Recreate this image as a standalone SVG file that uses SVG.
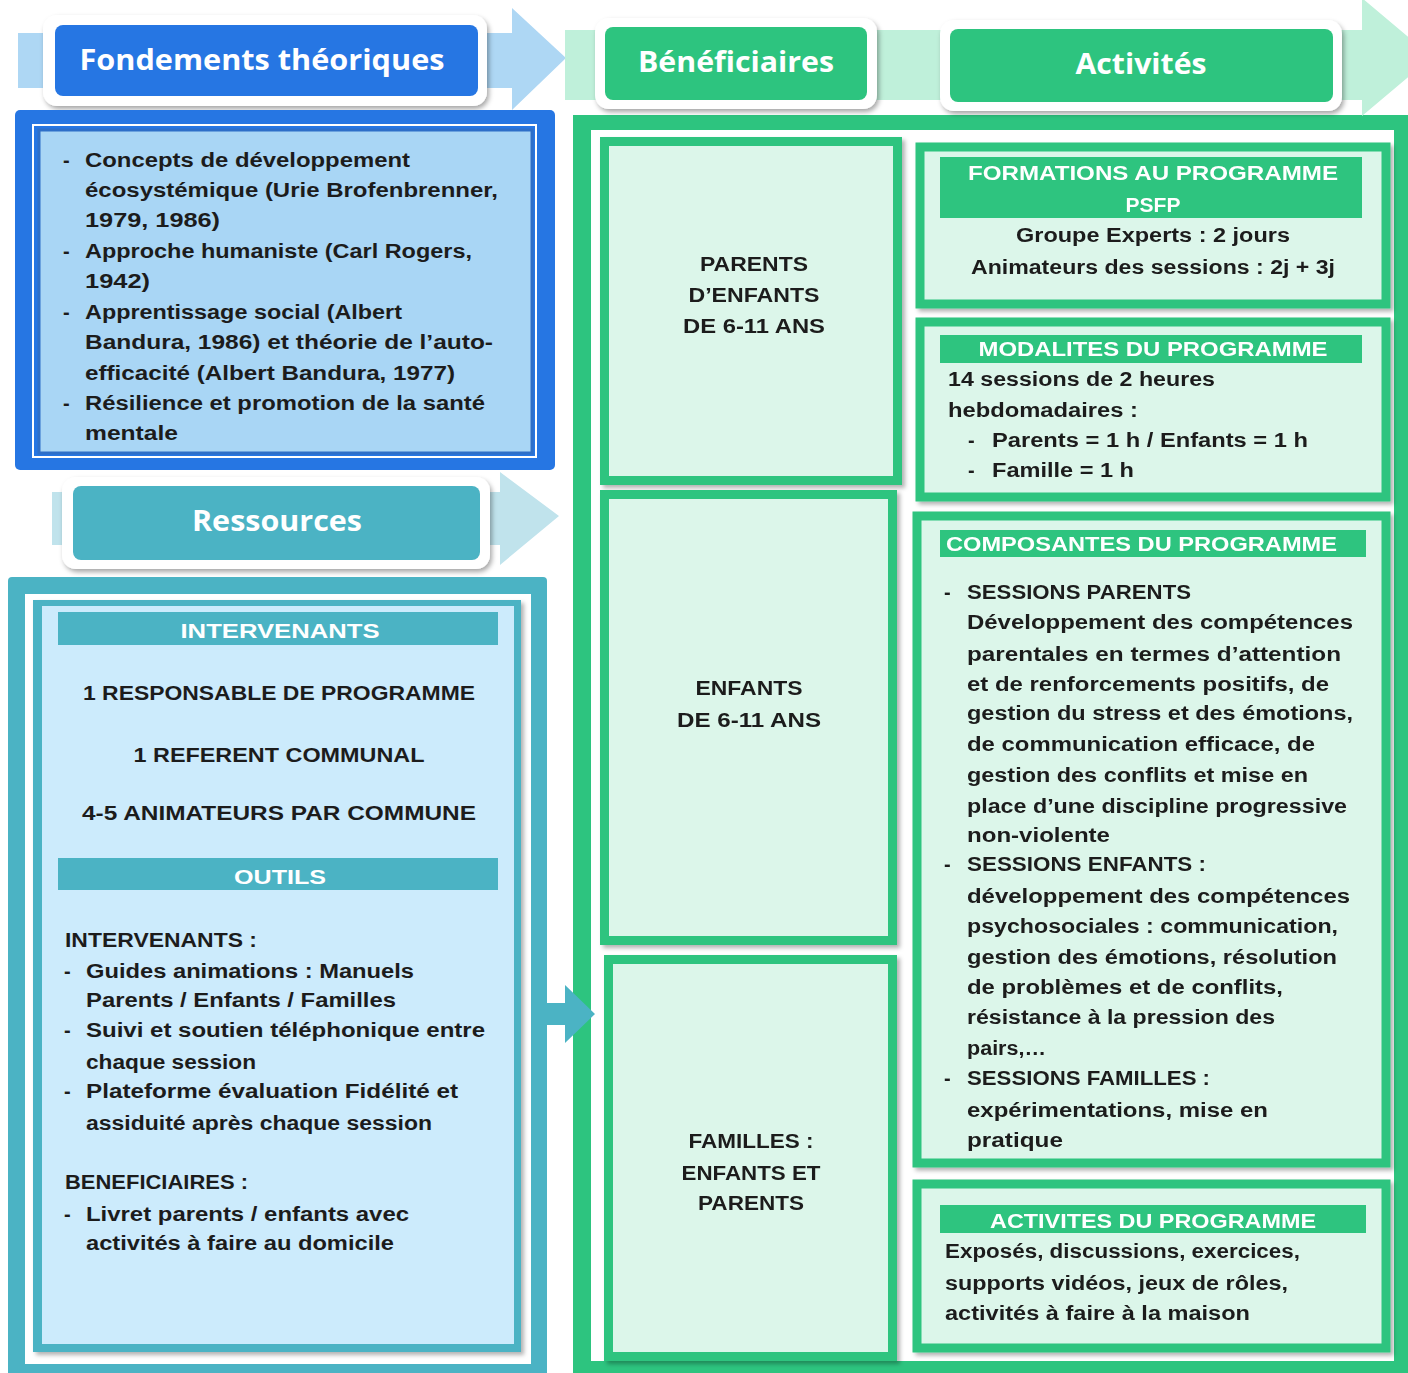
<svg xmlns="http://www.w3.org/2000/svg" width="1408" height="1373" viewBox="0 0 1408 1373">
<defs>
<filter id="sh" x="-10%" y="-10%" width="125%" height="130%">
<feDropShadow dx="2" dy="3" stdDeviation="2.5" flood-color="#000" flood-opacity="0.35"/>
</filter>
<filter id="sh2" x="-5%" y="-5%" width="115%" height="115%">
<feDropShadow dx="3" dy="3" stdDeviation="2" flood-color="#000" flood-opacity="0.3"/>
</filter>
</defs>
<style>
.t{font-family:"Liberation Sans","DejaVu Sans",Arial,sans-serif;font-weight:bold;font-size:20px;fill:#1c1c1c}
.w{fill:#ffffff}
.h{font-size:29px;font-family:"Open Sans","Liberation Sans",sans-serif;font-weight:bold}
.c{text-anchor:middle}
.blue{fill:#2676E3}
.teal{fill:#4BB3C4}
.green{fill:#2DC47F}
.gbox{fill:#DCF6EA;stroke:#2DC47F;stroke-width:9}
</style>
<rect width="1408" height="1373" fill="#ffffff"/>

<!-- Green container -->
<g id="container-green">
<rect x="573" y="115" width="840" height="1265" class="green"/>
<rect x="591" y="130" width="803" height="1231" fill="#fff"/>
</g>

<!-- banners and flow arrows -->
<g id="connectors">
<polygon points="18,33 512,33 512,8 566,58 512,110 512,88 18,88" fill="#AED7F4"/>
<polygon points="52,492 500,492 500,472 559,516 500,565 500,545 52,545" fill="#C0E3EC"/>
<polygon points="565,30 1362,30 1362,-2 1432,57 1362,116 1362,100 565,100" fill="#BFF0DA"/>
<polygon points="545,1003 565,1003 565,985 595,1014 565,1043 565,1025 545,1025" fill="#4BB3C4"/>
</g>

<!-- header: Fondements théoriques -->
<g id="hdr-fondements">
<rect x="43" y="15" width="444" height="91" rx="14" fill="#fff" filter="url(#sh)"/>
<rect x="55" y="25" width="423" height="71" rx="8" class="blue"/>
<text x="262" y="70" class="t w h c" textLength="365" lengthAdjust="spacingAndGlyphs">Fondements théoriques</text>
</g>

<!-- header: Bénéficiaires -->
<g id="hdr-beneficiaires">
<rect x="595" y="18" width="282" height="91" rx="14" fill="#fff" filter="url(#sh)"/>
<rect x="605" y="27" width="262" height="73" rx="8" class="green"/>
<text x="736" y="72" class="t w h c" textLength="196" lengthAdjust="spacingAndGlyphs">Bénéficiaires</text>
</g>

<!-- header: Activités -->
<g id="hdr-activites">
<rect x="940" y="20" width="402" height="91" rx="14" fill="#fff" filter="url(#sh)"/>
<rect x="950" y="29" width="383" height="73" rx="8" class="green"/>
<text x="1141" y="74" class="t w h c" textLength="131" lengthAdjust="spacingAndGlyphs">Activités</text>
</g>

<!-- Fondements box -->
<g id="box-fondements">
<rect x="15" y="110" width="540" height="360" rx="5" class="blue"/>
<rect x="33" y="125" width="503" height="332" fill="none" stroke="#fff" stroke-width="2"/>
<rect x="39" y="130" width="493" height="323" fill="#A9D6F5" stroke="#2E6FC8" stroke-width="3"/>
<text x="63" y="167" class="t">-</text>
<text x="85" y="167" class="t" textLength="325" lengthAdjust="spacingAndGlyphs">Concepts de développement</text>
<text x="85" y="197" class="t" textLength="413" lengthAdjust="spacingAndGlyphs">écosystémique (Urie Brofenbrenner,</text>
<text x="85" y="227" class="t" textLength="135" lengthAdjust="spacingAndGlyphs">1979, 1986)</text>
<text x="63" y="258" class="t">-</text>
<text x="85" y="258" class="t" textLength="387" lengthAdjust="spacingAndGlyphs">Approche humaniste (Carl Rogers,</text>
<text x="85" y="288" class="t" textLength="65" lengthAdjust="spacingAndGlyphs">1942)</text>
<text x="63" y="319" class="t">-</text>
<text x="85" y="319" class="t" textLength="317" lengthAdjust="spacingAndGlyphs">Apprentissage social (Albert</text>
<text x="85" y="349" class="t" textLength="408" lengthAdjust="spacingAndGlyphs">Bandura, 1986) et théorie de l’auto-</text>
<text x="85" y="380" class="t" textLength="370" lengthAdjust="spacingAndGlyphs">efficacité (Albert Bandura, 1977)</text>
<text x="63" y="410" class="t">-</text>
<text x="85" y="410" class="t" textLength="400" lengthAdjust="spacingAndGlyphs">Résilience et promotion de la santé</text>
<text x="85" y="440" class="t" textLength="93" lengthAdjust="spacingAndGlyphs">mentale</text>
</g>

<!-- header: Ressources -->
<g id="hdr-ressources">
<rect x="62" y="477" width="428" height="92" rx="14" fill="#fff" filter="url(#sh)"/>
<rect x="73" y="486" width="407" height="74" rx="8" class="teal"/>
<text x="277" y="531" class="t w h c" textLength="170" lengthAdjust="spacingAndGlyphs">Ressources</text>
</g>

<!-- Ressources box -->
<g id="box-ressources">
<rect x="8" y="577" width="539" height="800" rx="4" class="teal"/>
<rect x="25" y="594" width="506" height="770" fill="#fff"/>
<rect x="33" y="600" width="488" height="752" class="teal" filter="url(#sh2)"/>
<rect x="42" y="606" width="472" height="738" fill="#CCEBFC"/>
<rect x="58" y="612" width="440" height="33" class="teal"/>
<text x="280" y="638" class="t w c" textLength="199" lengthAdjust="spacingAndGlyphs">INTERVENANTS</text>
<text x="279" y="700" class="t c" textLength="392" lengthAdjust="spacingAndGlyphs">1 RESPONSABLE DE PROGRAMME</text>
<text x="279" y="762" class="t c" textLength="291" lengthAdjust="spacingAndGlyphs">1 REFERENT COMMUNAL</text>
<text x="279" y="820" class="t c" textLength="394" lengthAdjust="spacingAndGlyphs">4-5 ANIMATEURS PAR COMMUNE</text>
<rect x="58" y="858" width="440" height="32" class="teal"/>
<text x="280" y="884" class="t w c" textLength="92" lengthAdjust="spacingAndGlyphs">OUTILS</text>
<text x="65" y="947" class="t" textLength="192" lengthAdjust="spacingAndGlyphs">INTERVENANTS :</text>
<text x="64" y="978" class="t">-</text>
<text x="86" y="978" class="t" textLength="328" lengthAdjust="spacingAndGlyphs">Guides animations : Manuels</text>
<text x="86" y="1007" class="t" textLength="310" lengthAdjust="spacingAndGlyphs">Parents / Enfants / Familles</text>
<text x="64" y="1037" class="t">-</text>
<text x="86" y="1037" class="t" textLength="399" lengthAdjust="spacingAndGlyphs">Suivi et soutien téléphonique entre</text>
<text x="86" y="1069" class="t" textLength="170" lengthAdjust="spacingAndGlyphs">chaque session</text>
<text x="64" y="1098" class="t">-</text>
<text x="86" y="1098" class="t" textLength="372" lengthAdjust="spacingAndGlyphs">Plateforme évaluation Fidélité et</text>
<text x="86" y="1130" class="t" textLength="346" lengthAdjust="spacingAndGlyphs">assiduité après chaque session</text>
<text x="65" y="1189" class="t" textLength="183" lengthAdjust="spacingAndGlyphs">BENEFICIAIRES :</text>
<text x="64" y="1221" class="t">-</text>
<text x="86" y="1221" class="t" textLength="323" lengthAdjust="spacingAndGlyphs">Livret parents / enfants avec</text>
<text x="86" y="1250" class="t" textLength="308" lengthAdjust="spacingAndGlyphs">activités à faire au domicile</text>
</g>

<!-- Beneficiaires boxes -->
<g id="ben-parents" filter="url(#sh2)">
<rect x="604.5" y="141.5" width="293" height="339" class="gbox"/>
<text x="754" y="271" class="t c" textLength="108" lengthAdjust="spacingAndGlyphs">PARENTS</text>
<text x="754" y="302" class="t c" textLength="131" lengthAdjust="spacingAndGlyphs">D’ENFANTS</text>
<text x="754" y="333" class="t c" textLength="142" lengthAdjust="spacingAndGlyphs">DE 6-11 ANS</text>
</g>
<g id="ben-enfants" filter="url(#sh2)">
<rect x="604.5" y="494.5" width="288" height="446" class="gbox"/>
<text x="749" y="695" class="t c" textLength="107" lengthAdjust="spacingAndGlyphs">ENFANTS</text>
<text x="749" y="727" class="t c" textLength="144" lengthAdjust="spacingAndGlyphs">DE 6-11 ANS</text>
</g>
<g id="ben-familles" filter="url(#sh2)">
<rect x="608.5" y="959.5" width="284" height="397" class="gbox"/>
<text x="751" y="1148" class="t c" textLength="125" lengthAdjust="spacingAndGlyphs">FAMILLES :</text>
<text x="751" y="1180" class="t c" textLength="139" lengthAdjust="spacingAndGlyphs">ENFANTS ET</text>
<text x="751" y="1210" class="t c" textLength="106" lengthAdjust="spacingAndGlyphs">PARENTS</text>
</g>

<!-- Activites boxes -->
<g id="act-formations" filter="url(#sh2)">
<rect x="920" y="147" width="466" height="157" class="gbox"/>
<rect x="940" y="157" width="422" height="61" class="green"/>
<text x="1153" y="180" class="t w c" textLength="370" lengthAdjust="spacingAndGlyphs">FORMATIONS AU PROGRAMME</text>
<text x="1153" y="212" class="t w c" textLength="55" lengthAdjust="spacingAndGlyphs">PSFP</text>
<text x="1153" y="242" class="t c" textLength="274" lengthAdjust="spacingAndGlyphs">Groupe Experts : 2 jours</text>
<text x="1153" y="274" class="t c" textLength="364" lengthAdjust="spacingAndGlyphs">Animateurs des sessions : 2j + 3j</text>
</g>
<g id="act-modalites" filter="url(#sh2)">
<rect x="920" y="322" width="466" height="175" class="gbox"/>
<rect x="940" y="335" width="422" height="28" class="green"/>
<text x="1153" y="356" class="t w c" textLength="349" lengthAdjust="spacingAndGlyphs">MODALITES DU PROGRAMME</text>
<text x="948" y="386" class="t" textLength="267" lengthAdjust="spacingAndGlyphs">14 sessions de 2 heures</text>
<text x="948" y="417" class="t" textLength="190" lengthAdjust="spacingAndGlyphs">hebdomadaires :</text>
<text x="968" y="447" class="t">-</text>
<text x="992" y="447" class="t" textLength="316" lengthAdjust="spacingAndGlyphs">Parents = 1 h / Enfants = 1 h</text>
<text x="968" y="477" class="t">-</text>
<text x="992" y="477" class="t" textLength="142" lengthAdjust="spacingAndGlyphs">Famille = 1 h</text>
</g>
<g id="act-composantes" filter="url(#sh2)">
<rect x="917" y="516" width="469" height="647" class="gbox"/>
<rect x="940" y="530" width="426" height="27" class="green"/>
<text x="946" y="551" class="t w" textLength="391" lengthAdjust="spacingAndGlyphs">COMPOSANTES DU PROGRAMME</text>
<text x="944" y="599" class="t">-</text>
<text x="967" y="599" class="t" textLength="224" lengthAdjust="spacingAndGlyphs">SESSIONS PARENTS</text>
<text x="967" y="629" class="t" textLength="386" lengthAdjust="spacingAndGlyphs">Développement des compétences</text>
<text x="967" y="661" class="t" textLength="374" lengthAdjust="spacingAndGlyphs">parentales en termes d’attention</text>
<text x="967" y="691" class="t" textLength="362" lengthAdjust="spacingAndGlyphs">et de renforcements positifs, de</text>
<text x="967" y="720" class="t" textLength="386" lengthAdjust="spacingAndGlyphs">gestion du stress et des émotions,</text>
<text x="967" y="751" class="t" textLength="348" lengthAdjust="spacingAndGlyphs">de communication efficace, de</text>
<text x="967" y="782" class="t" textLength="341" lengthAdjust="spacingAndGlyphs">gestion des conflits et mise en</text>
<text x="967" y="813" class="t" textLength="380" lengthAdjust="spacingAndGlyphs">place d’une discipline progressive</text>
<text x="967" y="842" class="t" textLength="143" lengthAdjust="spacingAndGlyphs">non-violente</text>
<text x="944" y="871" class="t">-</text>
<text x="967" y="871" class="t" textLength="239" lengthAdjust="spacingAndGlyphs">SESSIONS ENFANTS :</text>
<text x="967" y="903" class="t" textLength="383" lengthAdjust="spacingAndGlyphs">développement des compétences</text>
<text x="967" y="933" class="t" textLength="371" lengthAdjust="spacingAndGlyphs">psychosociales : communication,</text>
<text x="967" y="964" class="t" textLength="370" lengthAdjust="spacingAndGlyphs">gestion des émotions, résolution</text>
<text x="967" y="994" class="t" textLength="316" lengthAdjust="spacingAndGlyphs">de problèmes et de conflits,</text>
<text x="967" y="1024" class="t" textLength="308" lengthAdjust="spacingAndGlyphs">résistance à la pression des</text>
<text x="967" y="1055" class="t" textLength="79" lengthAdjust="spacingAndGlyphs">pairs,…</text>
<text x="944" y="1085" class="t">-</text>
<text x="967" y="1085" class="t" textLength="243" lengthAdjust="spacingAndGlyphs">SESSIONS FAMILLES :</text>
<text x="967" y="1117" class="t" textLength="301" lengthAdjust="spacingAndGlyphs">expérimentations, mise en</text>
<text x="967" y="1147" class="t" textLength="96" lengthAdjust="spacingAndGlyphs">pratique</text>
</g>
<g id="act-activites" filter="url(#sh2)">
<rect x="917" y="1184" width="469" height="164" class="gbox"/>
<rect x="940" y="1205" width="426" height="28" class="green"/>
<text x="1153" y="1228" class="t w c" textLength="326" lengthAdjust="spacingAndGlyphs">ACTIVITES DU PROGRAMME</text>
<text x="945" y="1258" class="t" textLength="355" lengthAdjust="spacingAndGlyphs">Exposés, discussions, exercices,</text>
<text x="945" y="1290" class="t" textLength="343" lengthAdjust="spacingAndGlyphs">supports vidéos, jeux de rôles,</text>
<text x="945" y="1320" class="t" textLength="305" lengthAdjust="spacingAndGlyphs">activités à faire à la maison</text>
</g>
</svg>
